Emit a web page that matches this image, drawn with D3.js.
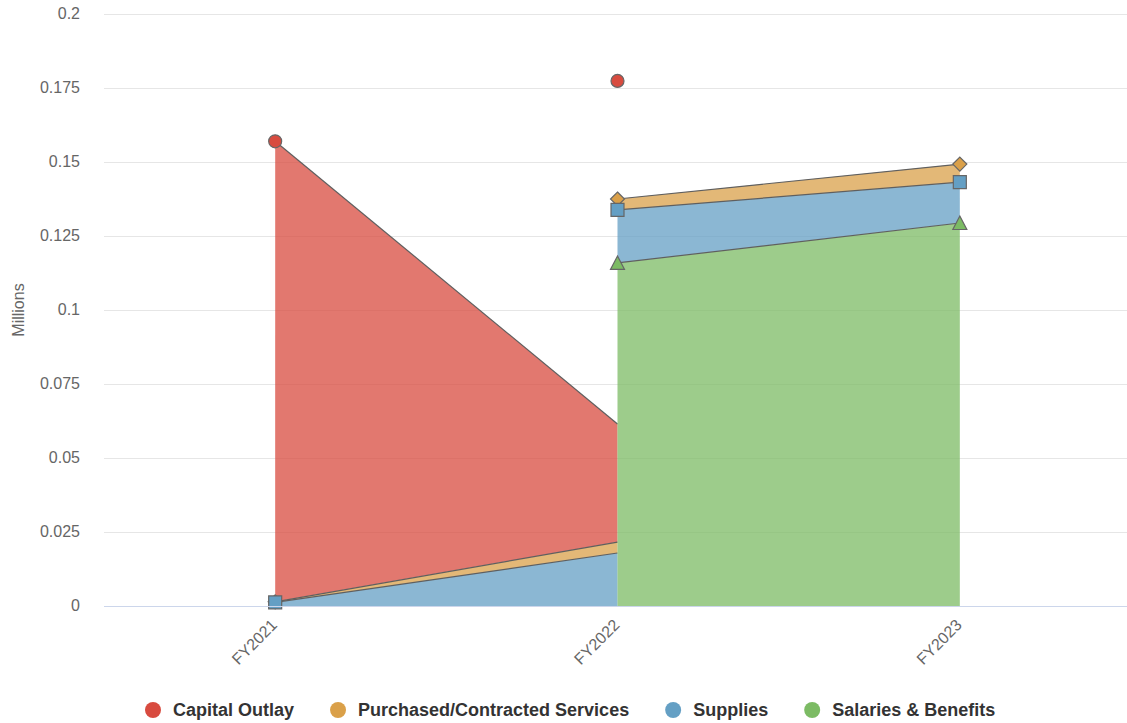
<!DOCTYPE html>
<meta charset="utf-8">
<script src="https://d3js.org/d3.v7.min.js"></script>
<style>
body { margin: 0; background: #fff; font-family: "Liberation Sans", Arial, sans-serif; }
</style>
<div id="chart"></div>
<script>
// Data (millions)
var categories = ["FY2021", "FY2022", "FY2023"];
var seriesNames = ["Capital Outlay", "Purchased/Contracted Services", "Supplies", "Salaries & Benefits"];
var capitalOutlay = [0.1556, 0.0399, null];
var purchased = [0.0002, 0.0037, 0.0061];
var supplies = [0.0012, 0.0179, 0.0138];
var salaries = [null, 0.1159, 0.1294];
var yTicks = [0, 0.025, 0.05, 0.075, 0.1, 0.125, 0.15, 0.175, 0.2];

var colors = ["#d84b3f", "#daa049", "#649fc4", "#7cbb64"];

// marker shapes, highcharts style
var markerPath = [
  "M-6.5,0A6.5,6.5 0 1,1 6.5,0A6.5,6.5 0 1,1 -6.5,0Z",
  "M0,-7L7,0L0,7L-7,0Z",
  "M-6.5,-6.5H6.5V6.5H-6.5Z",
  "M0,-7L7,6.5H-7Z"
];

// first series sits on top of the stack
var values = [capitalOutlay, purchased, supplies, salaries];

var width = 1127, height = 723;
var plotLeft = 104, plotRight = 1131, plotTop = 14, plotBottom = 606;

var svg = d3.select("#chart").append("svg")
  .attr("width", width).attr("height", height);

var x = d3.scalePoint().domain(categories).range([plotLeft, plotRight]).padding(0.5);
var y = d3.scaleLinear().domain([0, 0.2]).range([plotBottom, plotTop]);

// grid
svg.append("g").selectAll("line").data(yTicks.slice(1)).enter().append("line")
  .attr("x1", plotLeft).attr("x2", width)
  .attr("y1", function(d){ return y(d) + 0.5; }).attr("y2", function(d){ return y(d) + 0.5; })
  .attr("stroke", "#e6e6e6");

// y labels
svg.append("g").selectAll("text").data(yTicks).enter().append("text")
  .attr("x", 80).attr("y", function(d){ return y(d) + 5; })
  .attr("text-anchor", "end").attr("fill", "#666").style("font-size", "16px")
  .text(function(d){ return String(+d.toFixed(3)); });

svg.append("text")
  .attr("transform", "translate(24," + ((plotTop + plotBottom) / 2) + ") rotate(-90)")
  .attr("text-anchor", "middle").attr("fill", "#666").style("font-size", "16px")
  .text("Millions");

// stack helpers
function below(s) { var r = []; for (var k = s + 1; k < values.length; k++) r.push(k); return r; }
function stackTop(s, i) {
  var t = values[s][i];
  below(s).forEach(function(k){ if (values[k][i] != null) t += values[k][i]; });
  return t;
}
function segBase(s, i, j, at) {
  var b = 0;
  below(s).forEach(function(k){
    if (values[k][i] != null && values[k][j] != null) b += values[k][at];
  });
  return b;
}

var plot = svg.append("g");

// top series drawn first, the bottom series ends up above it
values.forEach(function(vals, s) {
  var g = plot.append("g");
  for (var i = 0; i < categories.length - 1; i++) {
    var j = i + 1;
    if (vals[i] == null || vals[j] == null) continue;
    var b0 = segBase(s, i, j, i), b1 = segBase(s, i, j, j);
    var pts = [[x(categories[i]), y(b0 + vals[i])], [x(categories[j]), y(b1 + vals[j])]];
    g.append("path")
      .attr("d", d3.area().x(function(d){ return d[0]; }).y0(function(d, n){ return y(n ? b1 : b0); }).y1(function(d){ return d[1]; })(pts))
      .attr("fill", colors[s]).attr("fill-opacity", 0.75);
    g.append("path")
      .attr("d", d3.line()(pts))
      .attr("fill", "none").attr("stroke", "#5f5f5f").attr("stroke-width", 1.2);
  }
  // isolated points: zero-width area
  vals.forEach(function(v, i) {
    if (v == null) return;
    var prev = i > 0 ? vals[i - 1] : null, next = i < vals.length - 1 ? vals[i + 1] : null;
    if (prev == null && next == null) {
      g.append("line")
        .attr("x1", x(categories[i])).attr("x2", x(categories[i]))
        .attr("y1", y(stackTop(s, i) - v)).attr("y2", y(stackTop(s, i)))
        .attr("stroke", colors[s]).attr("stroke-opacity", 0.2).attr("stroke-width", 1);
    }
  });
  vals.forEach(function(v, i) {
    if (v == null) return;
    g.append("path")
      .attr("d", markerPath[s])
      .attr("transform", "translate(" + x(categories[i]) + "," + y(stackTop(s, i)) + ")")
      .attr("fill", colors[s]).attr("stroke", "#666").attr("stroke-width", 1.2);
  });
});

// x axis line
svg.append("line").attr("x1", plotLeft).attr("x2", width)
  .attr("y1", plotBottom + 0.5).attr("y2", plotBottom + 0.5).attr("stroke", "#ccd6eb");

// x labels
svg.append("g").selectAll("text").data(categories).enter().append("text")
  .attr("transform", function(d){ return "translate(" + (x(d) + 3) + "," + (plotBottom + 20) + ") rotate(-45)"; })
  .attr("text-anchor", "end").attr("fill", "#666").style("font-size", "16px")
  .text(function(d){ return d; });

// legend
var legend = svg.append("g");
var cx = 0;
seriesNames.forEach(function(name, s) {
  var it = legend.append("g");
  it.append("circle").attr("cx", cx + 8).attr("cy", 0).attr("r", 8).attr("fill", colors[s]);
  var t = it.append("text").attr("x", cx + 28).attr("y", 6)
    .attr("fill", "#333").style("font-size", "18px").style("font-weight", "bold").text(name);
  cx += 28 + t.node().getComputedTextLength() + 36;
});
legend.attr("transform", "translate(145,710)");
</script>
